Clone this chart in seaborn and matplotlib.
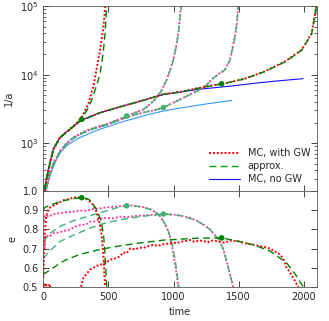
import numpy as np
import pandas as pd
import matplotlib
matplotlib.use('Agg')
import matplotlib.pyplot as plt
from matplotlib.lines import Line2D
import seaborn as sns

# ---- 1/a vs time ----
t_nogw1 = [8, 15, 28, 40, 54, 79, 105, 130, 170, 207, 283, 360, 437, 520, 590, 705, 800, 922, 1050, 1178, 1300, 1433, 1550, 1650, 1800, 1994]
a_nogw1 = [200, 230, 310, 420, 525, 820, 1010, 1210, 1420, 1600, 2100, 2450, 2780, 3100, 3400, 3890, 4400, 5130, 5550, 6060, 6400, 6780, 7200, 7580, 8100, 8730]

t_nogw2 = [15, 28, 40, 54, 80, 105, 140, 181, 230, 283, 360, 437, 520, 590, 667, 800, 922, 1050, 1178, 1300, 1446]
a_nogw2 = [200, 215, 270, 336, 460, 590, 760, 915, 1060, 1210, 1400, 1600, 1800, 2000, 2200, 2600, 2940, 3250, 3550, 3850, 4200]

t_mc1 = [8, 15, 28, 54, 79, 130, 207, 250, 289, 320, 350, 386, 410, 437, 460, 470, 477]
a_mc1 = [200, 230, 310, 525, 820, 1210, 1620, 1900, 2300, 2900, 3900, 6770, 12000, 23000, 45000, 70000, 100000]
t_ap1 = [10, 28, 54, 79, 130, 207, 250, 289, 320, 347, 380, 424, 437, 460, 475, 483, 488]
a_ap1 = [210, 310, 525, 820, 1210, 1600, 1880, 2230, 2700, 3280, 4600, 8450, 10500, 20000, 40000, 70000, 100000]

t_mc2 = [15, 28, 54, 80, 130, 181, 232, 290, 360, 437, 488, 560, 641, 705, 769, 820, 871, 910, 948, 973, 998, 1024, 1040, 1050, 1057]
a_mc2 = [200, 240, 380, 520, 770, 1000, 1210, 1400, 1600, 1780, 1890, 2150, 2490, 2780, 3110, 3700, 4590, 6000, 8460, 11500, 16500, 28000, 45000, 70000, 100000]
t_ap2 = [20, 54, 80, 130, 181, 232, 290, 360, 437, 488, 560, 641, 705, 769, 820, 871, 910, 948, 973, 998, 1024, 1040, 1050, 1058]
a_ap2 = [220, 370, 510, 760, 990, 1200, 1390, 1590, 1770, 1880, 2140, 2490, 2770, 3100, 3680, 4560, 5950, 8400, 11400, 16300, 27500, 44000, 68000, 100000]

t_mc3 = [15, 28, 54, 80, 130, 181, 232, 290, 360, 437, 488, 560, 641, 705, 769, 871, 922, 1050, 1178, 1250, 1305, 1350, 1394, 1433, 1471, 1485, 1496]
a_mc3 = [200, 235, 370, 505, 750, 975, 1180, 1370, 1560, 1740, 1850, 2080, 2380, 2600, 2800, 3100, 3300, 4350, 5730, 7000, 8930, 10300, 11800, 16500, 36000, 55000, 100000]
t_ap3 = [20, 54, 80, 130, 181, 232, 290, 360, 437, 488, 560, 641, 705, 769, 871, 922, 1050, 1178, 1250, 1305, 1350, 1394, 1433, 1471, 1485, 1497]
a_ap3 = [215, 360, 495, 740, 965, 1170, 1360, 1550, 1730, 1840, 2070, 2370, 2590, 2790, 3090, 3300, 4330, 5700, 6950, 8880, 10200, 11700, 16300, 35000, 54000, 100000]

t_mc4 = [8, 15, 28, 54, 79, 130, 207, 283, 437, 590, 705, 800, 922, 1050, 1178, 1300, 1369, 1433, 1548, 1701, 1854, 1982, 2059, 2090, 2097]
a_mc4 = [200, 230, 310, 525, 820, 1210, 1600, 2100, 2780, 3400, 3900, 4400, 5180, 5600, 6300, 6950, 7330, 7760, 8730, 11200, 15500, 23000, 40000, 87000, 100000]
t_ap4 = [10, 28, 54, 79, 130, 207, 283, 437, 590, 705, 800, 922, 1050, 1178, 1300, 1369, 1433, 1548, 1701, 1854, 1982, 2059, 2090, 2098]
a_ap4 = [205, 305, 515, 810, 1200, 1590, 2090, 2770, 3390, 3890, 4390, 5160, 5580, 6270, 6930, 7330, 7740, 8700, 11100, 15300, 22600, 39000, 85000, 100000]

# ---- e vs time ----
te_mc1 = [3, 8, 15, 23, 30, 41, 55, 79, 110, 156, 200, 232, 283, 320, 347, 370, 386, 405, 424, 440, 450, 462, 475]
e_mc1 = [0.55, 0.70, 0.80, 0.86, 0.885, 0.904, 0.915, 0.925, 0.935, 0.952, 0.958, 0.966, 0.966, 0.962, 0.952, 0.94, 0.925, 0.90, 0.86, 0.81, 0.76, 0.67, 0.50]
te_ap1 = [0, 15, 50, 100, 150, 200, 250, 296, 340, 370, 398, 420, 440, 450, 465, 475, 482, 488]
e_ap1 = [0.90, 0.915, 0.925, 0.937, 0.948, 0.956, 0.962, 0.965, 0.96, 0.947, 0.916, 0.89, 0.85, 0.83, 0.76, 0.67, 0.58, 0.50]

te_mc2 = [12, 15, 25, 41, 60, 79, 105, 140, 181, 232, 283, 330, 386, 437, 488, 560, 615, 667, 705, 769, 820, 871, 896, 922, 948, 970, 986, 1000, 1011, 1025, 1037]
e_mc2 = [0.84, 0.87, 0.865, 0.874, 0.872, 0.88, 0.882, 0.886, 0.889, 0.892, 0.898, 0.897, 0.906, 0.91, 0.915, 0.918, 0.924, 0.926, 0.922, 0.916, 0.906, 0.886, 0.87, 0.845, 0.81, 0.77, 0.72, 0.67, 0.62, 0.56, 0.50]
te_ap2 = [0, 54, 130, 232, 360, 437, 488, 560, 641, 705, 769, 820, 871, 922, 960, 990, 1011, 1025, 1040]
e_ap2 = [0.735, 0.78, 0.816, 0.845, 0.872, 0.886, 0.897, 0.912, 0.923, 0.922, 0.915, 0.904, 0.885, 0.845, 0.79, 0.72, 0.65, 0.58, 0.50]

te_mc3 = [12, 15, 25, 40, 60, 80, 105, 150, 207, 250, 283, 330, 360, 400, 437, 488, 540, 590, 650, 705, 760, 820, 870, 922, 1000, 1050, 1120, 1178, 1230, 1280, 1343, 1380, 1407, 1435, 1458]
e_mc3 = [0.70, 0.763, 0.755, 0.772, 0.768, 0.78, 0.782, 0.79, 0.80, 0.815, 0.822, 0.826, 0.84, 0.842, 0.856, 0.86, 0.858, 0.866, 0.864, 0.87, 0.872, 0.875, 0.874, 0.88, 0.878, 0.872, 0.862, 0.846, 0.825, 0.80, 0.75, 0.70, 0.635, 0.56, 0.50]
te_ap3 = [0, 54, 130, 232, 360, 437, 488, 590, 705, 820, 922, 1050, 1178, 1280, 1343, 1380, 1407, 1435, 1460]
e_ap3 = [0.65, 0.69, 0.737, 0.77, 0.807, 0.825, 0.835, 0.85, 0.863, 0.873, 0.88, 0.872, 0.846, 0.80, 0.75, 0.70, 0.635, 0.56, 0.50]

te_mc4 = [0, 10, 20, 35, 50, 60, 100, 200, 290, 309, 335, 360, 385, 411, 440, 462, 490, 513, 540, 565, 590, 615, 640, 667, 705, 740, 769, 800, 845, 880, 922, 960, 1000, 1024, 1060, 1100, 1126, 1160, 1200, 1228, 1260, 1300, 1331, 1360, 1395, 1430, 1458, 1500, 1535, 1611, 1688, 1740, 1765, 1816, 1840, 1867, 1890, 1918, 1957, 1990]
e_mc4 = [0.51, 0.50, 0.52, 0.49, 0.515, 0.48, 0.40, 0.42, 0.50, 0.547, 0.57, 0.59, 0.60, 0.61, 0.615, 0.626, 0.63, 0.643, 0.645, 0.653, 0.66, 0.68, 0.675, 0.70, 0.696, 0.705, 0.703, 0.712, 0.72, 0.714, 0.723, 0.726, 0.73, 0.728, 0.736, 0.74, 0.745, 0.735, 0.742, 0.74, 0.732, 0.742, 0.74, 0.735, 0.73, 0.742, 0.74, 0.738, 0.73, 0.72, 0.71, 0.70, 0.69, 0.67, 0.65, 0.60, 0.58, 0.547, 0.50, 0.45]
te_ap4 = [0, 79, 130, 181, 283, 437, 590, 705, 922, 1178, 1369, 1484, 1611, 1739, 1867, 1944, 1994]
e_ap4 = [0.565, 0.60, 0.625, 0.643, 0.67, 0.696, 0.714, 0.726, 0.744, 0.754, 0.756, 0.74, 0.72, 0.688, 0.626, 0.556, 0.50]

# points where the approximation is matched
dot_t = [296, 641, 922, 1369]
dot_a = [2230, 2490, 3300, 7330]
dot_e = [0.965, 0.923, 0.88, 0.756]
dot_col = ['#008000', '#3cb371', '#3cb371', '#008000']

RED = '#ff0000'
PINK = '#ff3fa0'
DKGREEN = '#008000'
MDGREEN = '#3cb371'
BLUE = '#1010ff'
LTBLUE = '#3399ff'
DOT = (0, (1, 1))
DASH = (0, (5, 3))

sns.set_style('ticks')
plt.rcParams['font.family'] = ['DejaVu Sans']
plt.rcParams['font.size'] = 7

fig = plt.figure(figsize=(3.29, 3.21), dpi=100)
gs = fig.add_gridspec(2, 1, height_ratios=[185, 96], hspace=0,
                      left=0.131, right=0.9635, top=0.981, bottom=0.106)
ax1 = fig.add_subplot(gs[0])
ax2 = fig.add_subplot(gs[1], sharex=ax1)


def draw(ax, t, y, color, ls, lw):
    df = pd.DataFrame({'t': t, 'y': y})
    sns.lineplot(data=df, x='t', y='y', ax=ax, color=color, linestyle=ls,
                 linewidth=lw, estimator=None, sort=False)


# top panel
draw(ax1, t_nogw2, a_nogw2, LTBLUE, '-', 0.8)
draw(ax1, t_nogw1, a_nogw1, BLUE, '-', 0.8)
draw(ax1, t_mc2, a_mc2, PINK, DOT, 1.4)
draw(ax1, t_mc3, a_mc3, PINK, DOT, 1.4)
draw(ax1, t_ap2, a_ap2, MDGREEN, DASH, 1.0)
draw(ax1, t_ap3, a_ap3, MDGREEN, DASH, 1.0)
draw(ax1, t_mc1, a_mc1, RED, DOT, 1.4)
draw(ax1, t_mc4, a_mc4, RED, DOT, 1.4)
draw(ax1, t_ap1, a_ap1, DKGREEN, DASH, 1.0)
draw(ax1, t_ap4, a_ap4, DKGREEN, DASH, 1.0)
sns.scatterplot(x=dot_t, y=dot_a, ax=ax1, c=dot_col, s=16, linewidth=0, zorder=5)

# bottom panel
draw(ax2, te_mc2, e_mc2, PINK, DOT, 1.4)
draw(ax2, te_mc3, e_mc3, PINK, DOT, 1.4)
draw(ax2, te_ap2, e_ap2, MDGREEN, DASH, 1.0)
draw(ax2, te_ap3, e_ap3, MDGREEN, DASH, 1.0)
draw(ax2, te_mc1, e_mc1, RED, DOT, 1.4)
draw(ax2, te_mc4, e_mc4, RED, DOT, 1.4)
draw(ax2, te_ap1, e_ap1, DKGREEN, DASH, 1.0)
draw(ax2, te_ap4, e_ap4, DKGREEN, DASH, 1.0)
sns.scatterplot(x=dot_t, y=dot_e, ax=ax2, c=dot_col, s=16, linewidth=0, zorder=5)

ax1.set_yscale('log')
ax1.set_ylim(200, 1e5)
ax1.set_xlim(0, 2100)
ax1.set_ylabel('1/a')
ax1.set_xlabel('')
ax1.tick_params(labelbottom=False)

ax2.set_ylim(0.5, 1.0)
ax2.set_yticks([0.5, 0.6, 0.7, 0.8, 0.9, 1.0])
ax2.set_xticks([0, 500, 1000, 1500, 2000])
ax2.set_xlabel('time')
ax2.set_ylabel('e')

for ax in (ax1, ax2):
    ax.tick_params(which='both', direction='in', top=True, right=True, labelsize=7)
    ax.tick_params(which='major', length=4, width=0.6)
    ax.tick_params(which='minor', length=2, width=0.5)
    for sp in ax.spines.values():
        sp.set_linewidth(0.6)
        sp.set_color('#555555')

handles = [Line2D([], [], color=RED, linestyle=DOT, linewidth=1.4),
           Line2D([], [], color='#00a000', linestyle=DASH, linewidth=1.0),
           Line2D([], [], color=BLUE, linestyle='-', linewidth=0.8)]
ax1.legend(handles, ['MC, with GW', 'approx.', 'MC, no GW'], loc='lower right',
           frameon=False, fontsize=7, handlelength=3.2, borderaxespad=0.3,
           labelspacing=0.3)

fig.savefig('out.png', dpi=100)
